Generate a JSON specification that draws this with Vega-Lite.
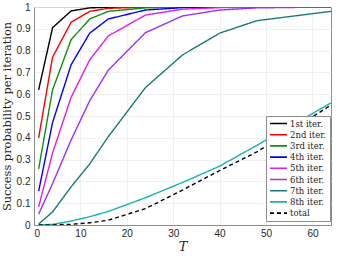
{
  "$schema": "https://vega.github.io/schema/vega-lite/v6.json",
  "autosize": {"type": "none"},
  "padding": {"left": 34, "top": 7, "right": 10, "bottom": 31},
  "width": 297,
  "height": 218,
  "background": "white",
  "config": {
    "view": {"stroke": "#8c8c8c", "strokeWidth": 1},
    "axis": {
      "labelFont": "Liberation Sans",
      "labelFontSize": 10,
      "labelColor": "#262626",
      "gridColor": "#ececec",
      "gridWidth": 0.8,
      "domainColor": "#8c8c8c",
      "ticks": false,
      "titleFont": "DejaVu Serif",
      "titleFontWeight": "normal",
      "titleColor": "#262626"
    }
  },
  "data": {
    "values": [
      {"T": 1, "series": "1st iter.", "p": 0.62},
      {"T": 4, "series": "1st iter.", "p": 0.905},
      {"T": 8, "series": "1st iter.", "p": 0.982},
      {"T": 12, "series": "1st iter.", "p": 0.996},
      {"T": 16, "series": "1st iter.", "p": 0.999},
      {"T": 24, "series": "1st iter.", "p": 1},
      {"T": 32, "series": "1st iter.", "p": 1},
      {"T": 40, "series": "1st iter.", "p": 1},
      {"T": 48, "series": "1st iter.", "p": 1},
      {"T": 64, "series": "1st iter.", "p": 1},
      {"T": 1, "series": "2nd iter.", "p": 0.40},
      {"T": 4, "series": "2nd iter.", "p": 0.77},
      {"T": 8, "series": "2nd iter.", "p": 0.93},
      {"T": 12, "series": "2nd iter.", "p": 0.98},
      {"T": 16, "series": "2nd iter.", "p": 0.994},
      {"T": 24, "series": "2nd iter.", "p": 0.999},
      {"T": 32, "series": "2nd iter.", "p": 1},
      {"T": 40, "series": "2nd iter.", "p": 1},
      {"T": 48, "series": "2nd iter.", "p": 1},
      {"T": 64, "series": "2nd iter.", "p": 1},
      {"T": 1, "series": "3rd iter.", "p": 0.257},
      {"T": 4, "series": "3rd iter.", "p": 0.62},
      {"T": 8, "series": "3rd iter.", "p": 0.85},
      {"T": 12, "series": "3rd iter.", "p": 0.945},
      {"T": 16, "series": "3rd iter.", "p": 0.98},
      {"T": 24, "series": "3rd iter.", "p": 0.996},
      {"T": 32, "series": "3rd iter.", "p": 0.999},
      {"T": 40, "series": "3rd iter.", "p": 1},
      {"T": 48, "series": "3rd iter.", "p": 1},
      {"T": 64, "series": "3rd iter.", "p": 1},
      {"T": 1, "series": "4th iter.", "p": 0.155},
      {"T": 4, "series": "4th iter.", "p": 0.47},
      {"T": 8, "series": "4th iter.", "p": 0.735},
      {"T": 12, "series": "4th iter.", "p": 0.88},
      {"T": 16, "series": "4th iter.", "p": 0.945},
      {"T": 24, "series": "4th iter.", "p": 0.986},
      {"T": 32, "series": "4th iter.", "p": 0.997},
      {"T": 40, "series": "4th iter.", "p": 0.999},
      {"T": 48, "series": "4th iter.", "p": 1},
      {"T": 64, "series": "4th iter.", "p": 1},
      {"T": 1, "series": "5th iter.", "p": 0.083},
      {"T": 4, "series": "5th iter.", "p": 0.33},
      {"T": 8, "series": "5th iter.", "p": 0.586},
      {"T": 12, "series": "5th iter.", "p": 0.757},
      {"T": 16, "series": "5th iter.", "p": 0.867},
      {"T": 24, "series": "5th iter.", "p": 0.963},
      {"T": 32, "series": "5th iter.", "p": 0.99},
      {"T": 40, "series": "5th iter.", "p": 0.997},
      {"T": 48, "series": "5th iter.", "p": 0.999},
      {"T": 64, "series": "5th iter.", "p": 1},
      {"T": 1, "series": "6th iter.", "p": 0.05},
      {"T": 4, "series": "6th iter.", "p": 0.19},
      {"T": 8, "series": "6th iter.", "p": 0.39},
      {"T": 12, "series": "6th iter.", "p": 0.57},
      {"T": 16, "series": "6th iter.", "p": 0.71},
      {"T": 24, "series": "6th iter.", "p": 0.882},
      {"T": 32, "series": "6th iter.", "p": 0.959},
      {"T": 40, "series": "6th iter.", "p": 0.986},
      {"T": 48, "series": "6th iter.", "p": 0.996},
      {"T": 64, "series": "6th iter.", "p": 1},
      {"T": 1, "series": "7th iter.", "p": 0.004},
      {"T": 4, "series": "7th iter.", "p": 0.06},
      {"T": 8, "series": "7th iter.", "p": 0.175},
      {"T": 12, "series": "7th iter.", "p": 0.28},
      {"T": 16, "series": "7th iter.", "p": 0.405},
      {"T": 24, "series": "7th iter.", "p": 0.63},
      {"T": 32, "series": "7th iter.", "p": 0.78},
      {"T": 40, "series": "7th iter.", "p": 0.88},
      {"T": 48, "series": "7th iter.", "p": 0.937},
      {"T": 64, "series": "7th iter.", "p": 0.98},
      {"T": 1, "series": "8th iter.", "p": 0},
      {"T": 4, "series": "8th iter.", "p": 0.003},
      {"T": 8, "series": "8th iter.", "p": 0.018},
      {"T": 12, "series": "8th iter.", "p": 0.038},
      {"T": 16, "series": "8th iter.", "p": 0.062},
      {"T": 24, "series": "8th iter.", "p": 0.125},
      {"T": 32, "series": "8th iter.", "p": 0.195},
      {"T": 40, "series": "8th iter.", "p": 0.27},
      {"T": 48, "series": "8th iter.", "p": 0.365},
      {"T": 64, "series": "8th iter.", "p": 0.56},
      {"T": 1, "series": "total", "p": 0},
      {"T": 4, "series": "total", "p": 0.0005},
      {"T": 8, "series": "total", "p": 0.003},
      {"T": 12, "series": "total", "p": 0.01},
      {"T": 16, "series": "total", "p": 0.022},
      {"T": 24, "series": "total", "p": 0.075},
      {"T": 32, "series": "total", "p": 0.16},
      {"T": 40, "series": "total", "p": 0.25},
      {"T": 48, "series": "total", "p": 0.335},
      {"T": 64, "series": "total", "p": 0.55}
    ]
  },
  "mark": {"type": "line", "strokeWidth": 1.4, "clip": true},
  "encoding": {
    "x": {
      "field": "T", "type": "quantitative",
      "scale": {"domain": [0, 64], "nice": false},
      "axis": {"values": [0, 10, 20, 30, 40, 50, 60], "title": "T", "titleFontStyle": "italic", "titleFontSize": 13, "titlePadding": 2, "labelPadding": 3}
    },
    "y": {
      "field": "p", "type": "quantitative",
      "scale": {"domain": [0, 1], "nice": false},
      "axis": {"values": [0, 0.1, 0.2, 0.3, 0.4, 0.5, 0.6, 0.7, 0.8, 0.9, 1], "format": "~g", "title": "Success probability per iteration", "titleFontSize": 11.4, "titlePadding": 4, "labelPadding": 4}
    },
    "color": {
      "field": "series", "type": "nominal",
      "scale": {
        "domain": ["1st iter.", "2nd iter.", "3rd iter.", "4th iter.", "5th iter.", "6th iter.", "7th iter.", "8th iter.", "total"],
        "range": ["#000000", "#ff0000", "#109010", "#0000ff", "#e01ee0", "#9b30ff", "#1a7a78", "#18b2b0", "#000000"]
      },
      "legend": {
        "title": null,
        "orient": "none",
        "legendX": 232,
        "legendY": 109,
        "fillColor": "white",
        "strokeColor": "#8c8c8c",
        "padding": 3,
        "symbolType": "stroke",
        "symbolSize": 289,
        "symbolStrokeWidth": 1.6,
        "labelFont": "DejaVu Serif",
        "labelFontSize": 8.5,
        "labelColor": "#262626",
        "clipHeight": 9,
        "rowPadding": 2.2,
        "labelOffset": 2
      }
    },
    "strokeDash": {
      "field": "series", "type": "nominal",
      "scale": {
        "domain": ["1st iter.", "2nd iter.", "3rd iter.", "4th iter.", "5th iter.", "6th iter.", "7th iter.", "8th iter.", "total"],
        "range": [[1, 0], [1, 0], [1, 0], [1, 0], [1, 0], [1, 0], [1, 0], [1, 0], [4, 3]]
      }
    }
  }
}
